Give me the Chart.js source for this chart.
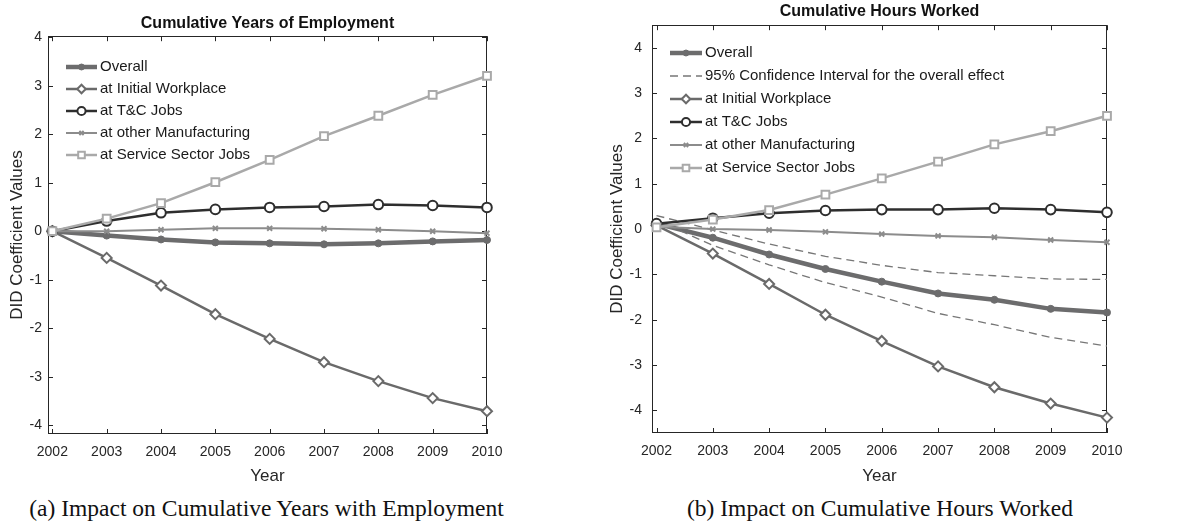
<!DOCTYPE html>
<html lang="en">
<head>
<meta charset="UTF-8">
<title>DID Coefficient Values</title>
<script src="https://cdn.jsdelivr.net/npm/chart.js"></script>
<style>
  body {
    margin: 0;
    background: #fff;
    width: 1195px;
    height: 528px;
    overflow: hidden;
    position: relative;
  }
  canvas { position: absolute; top: 0; }
  #chartA { left: 0; }
  #chartB { left: 600px; }
  .caption {
    position: absolute;
    top: 494px;
    font-family: "Liberation Serif", "Times New Roman", serif;
    font-size: 23.5px;
    line-height: 28px;
    color: #111;
    text-align: center;
  }
</style>
</head>
<body>
  <canvas id="chartA" width="595" height="490"></canvas>
  <canvas id="chartB" width="595" height="490"></canvas>
  <div class="caption" style="left:0; width:533px;">(a) Impact on Cumulative Years with Employment</div>
  <div class="caption" style="left:600px; width:560px;">(b) Impact on Cumulative Hours Worked</div>

<script>
  const years = [2002, 2003, 2004, 2005, 2006, 2007, 2008, 2009, 2010];
  const yTicksA = [-4, -3, -2, -1, 0, 1, 2, 3, 4];
  const yTicksB = [-4, -3, -2, -1, 0, 1, 2, 3, 4];

  // (a) cumulative years of employment
  const empOverall = [0, -0.09, -0.17, -0.23, -0.25, -0.27, -0.25, -0.21, -0.18];
  const empInitial = [0, -0.55, -1.12, -1.71, -2.22, -2.70, -3.09, -3.44, -3.71];
  const empTC = [0, 0.21, 0.38, 0.45, 0.49, 0.51, 0.55, 0.53, 0.49];
  const empOther = [0, 0.0, 0.03, 0.06, 0.06, 0.05, 0.03, 0.0, -0.04];
  const empService = [0, 0.26, 0.58, 1.01, 1.47, 1.96, 2.38, 2.81, 3.20];

  // (b) cumulative hours worked
  const hrsOverall = [0.12, -0.19, -0.56, -0.88, -1.16, -1.42, -1.56, -1.76, -1.84];
  const hrsCIUp = [0.30, -0.02, -0.33, -0.60, -0.80, -0.96, -1.03, -1.10, -1.11];
  const hrsCILow = [0.20, -0.36, -0.79, -1.18, -1.50, -1.86, -2.11, -2.39, -2.58];
  const hrsInitial = [0.08, -0.54, -1.21, -1.89, -2.47, -3.03, -3.49, -3.85, -4.16];
  const hrsTC = [0.12, 0.24, 0.35, 0.41, 0.43, 0.43, 0.46, 0.43, 0.37];
  const hrsOther = [0.05, 0.0, -0.02, -0.06, -0.11, -0.15, -0.18, -0.24, -0.29];
  const hrsService = [0.04, 0.21, 0.42, 0.76, 1.12, 1.49, 1.87, 2.16, 2.50];

  const FONT = '"Liberation Sans", Arial, Helvetica, sans-serif';
  const INK = '#262626';

  const styles = {
    overall: { borderColor: '#6c6c6d', borderWidth: 4.5, pointStyle: 'circle', pointRadius: 3.5,
               pointBackgroundColor: '#6c6c6d', pointBorderColor: '#6c6c6d', pointBorderWidth: 1 },
    ci: { borderColor: '#777777', borderWidth: 1.3, borderDash: [8, 5], pointRadius: 0 },
    initial: { borderColor: '#6a6a6a', borderWidth: 2.5, pointStyle: 'rectRot', pointRadius: 5,
               pointBackgroundColor: '#ffffff', pointBorderColor: '#6a6a6a', pointBorderWidth: 2 },
    tc: { borderColor: '#2e2e2e', borderWidth: 2.5, pointStyle: 'circle', pointRadius: 4.8,
          pointBackgroundColor: '#ffffff', pointBorderColor: '#2e2e2e', pointBorderWidth: 2 },
    other: { borderColor: '#8c8c8c', borderWidth: 2, pointStyle: 'crossRot', pointRadius: 3.5,
             pointBackgroundColor: '#8c8c8c', pointBorderColor: '#8c8c8c', pointBorderWidth: 2 },
    service: { borderColor: '#a9a9a9', borderWidth: 2.5, pointStyle: 'rect', pointRadius: 5.5,
               pointBackgroundColor: '#ffffff', pointBorderColor: '#a9a9a9', pointBorderWidth: 2 }
  };

  function series(label, values, style, idx, inLegend) {
    return Object.assign({
      label: label,
      data: values.map((v, i) => ({ x: years[i], y: v })),
      tension: 0,
      fill: false,
      clip: false,
      order: 20 - idx,
      inLegend: inLegend !== false,
      pointHoverRadius: style.pointRadius
    }, style);
  }

  // box, inward ticks and the legend the way matlab draws them
  const matlabLook = {
    id: 'matlabLook',
    beforeDatasetsDraw(chart) {
      const { ctx, chartArea: a, scales } = chart;
      ctx.save();
      ctx.strokeStyle = INK;
      ctx.lineWidth = 1;
      ctx.strokeRect(Math.round(a.left) + 0.5, Math.round(a.top) + 0.5,
                     Math.round(a.width) - 1, Math.round(a.height) - 1);
      ctx.beginPath();
      scales.x.ticks.forEach(t => {
        const px = Math.round(scales.x.getPixelForValue(t.value)) + 0.5;
        ctx.moveTo(px, a.bottom); ctx.lineTo(px, a.bottom - 5);
        ctx.moveTo(px, a.top); ctx.lineTo(px, a.top + 5);
      });
      scales.y.ticks.forEach(t => {
        const py = Math.round(scales.y.getPixelForValue(t.value)) + 0.5;
        ctx.moveTo(a.left, py); ctx.lineTo(a.left + 5, py);
        ctx.moveTo(a.right, py); ctx.lineTo(a.right - 5, py);
      });
      ctx.stroke();
      ctx.restore();
    },
    afterDatasetsDraw(chart, args, opts) {
      const ctx = chart.ctx;
      let y = opts.y;
      ctx.save();
      ctx.font = '15px ' + FONT;
      ctx.textBaseline = 'middle';
      chart.data.datasets.forEach(ds => {
        if (!ds.inLegend) return;
        ctx.strokeStyle = ds.borderColor;
        ctx.lineWidth = ds.borderWidth;
        ctx.setLineDash(ds.borderDash || []);
        ctx.beginPath();
        ctx.moveTo(opts.x, y);
        ctx.lineTo(opts.x + opts.len, y);
        ctx.stroke();
        ctx.setLineDash([]);
        if (ds.pointRadius > 0) {
          ctx.fillStyle = ds.pointBackgroundColor;
          ctx.strokeStyle = ds.pointBorderColor;
          ctx.lineWidth = ds.pointBorderWidth;
          Chart.helpers.drawPoint(ctx, {
            pointStyle: ds.pointStyle, radius: ds.pointRadius * 0.85,
            borderWidth: ds.pointBorderWidth, rotation: 0
          }, opts.x + opts.len / 2, y);
        }
        ctx.fillStyle = '#1a1a1a';
        ctx.fillText(ds.label, opts.x + opts.len + 3, y);
        y += opts.dy;
      });
      ctx.restore();
    }
  };

  function makeOptions(cfg) {
    return {
      responsive: false,
      animation: false,
      events: [],
      layout: { padding: { left: 0, right: cfg.padRight, top: 0, bottom: 0 } },
      plugins: {
        legend: { display: false },
        tooltip: { enabled: false },
        title: {
          display: true,
          text: cfg.title,
          fullSize: false,
          color: '#111',
          font: { family: FONT, size: 16, weight: 'bold' },
          padding: cfg.titlePad
        },
        matlabLook: cfg.legend
      },
      scales: {
        x: {
          type: 'linear',
          min: 2001.92,
          max: 2010,
          afterBuildTicks: s => { s.ticks = years.map(v => ({ value: v })); },
          afterFit: s => { s.height = cfg.xHeight; },
          grid: { display: false, drawTicks: false },
          border: { display: false },
          ticks: {
            autoSkip: false, maxRotation: 0, padding: 10,
            color: INK, font: { family: FONT, size: 14 },
            callback: v => String(v)
          },
          title: {
            display: true, text: 'Year', color: INK,
            font: { family: FONT, size: 17 },
            padding: { top: 0, bottom: 3 }
          }
        },
        y: {
          min: cfg.yMin,
          max: cfg.yMax,
          afterBuildTicks: s => { s.ticks = cfg.yTicks.map(v => ({ value: v })); },
          afterFit: s => { s.width = cfg.yWidth; },
          grid: { display: false, drawTicks: false },
          border: { display: false },
          ticks: {
            padding: cfg.yTickPad,
            color: INK, font: { family: FONT, size: 14 },
            callback: v => String(v)
          },
          title: {
            display: true, text: 'DID Coefficient Values', color: INK,
            font: { family: FONT, size: 17 },
            padding: { top: 7, bottom: 0 }
          }
        }
      }
    };
  }

  new Chart(document.getElementById('chartA'), {
    type: 'line',
    data: {
      datasets: [
        series('Overall', empOverall, styles.overall, 0),
        series('at Initial Workplace', empInitial, styles.initial, 1),
        series('at T&C Jobs', empTC, styles.tc, 2),
        series('at other Manufacturing', empOther, styles.other, 3),
        series('at Service Sector Jobs', empService, styles.service, 4)
      ]
    },
    options: makeOptions({
      title: 'Cumulative Years of Employment',
      titlePad: { top: 14, bottom: 3 },
      padRight: 108,
      xHeight: 56,
      yWidth: 48,
      yTickPad: 6,
      yMin: -4.18,
      yMax: 4.02,
      yTicks: yTicksA,
      legend: { x: 66, y: 67, dy: 22, len: 31 }
    }),
    plugins: [matlabLook]
  });

  new Chart(document.getElementById('chartB'), {
    type: 'line',
    data: {
      datasets: [
        series('Overall', hrsOverall, styles.overall, 0),
        series('95% Confidence Interval for the overall effect', hrsCIUp, styles.ci, 1),
        series('95% CI lower', hrsCILow, styles.ci, 2, false),
        series('at Initial Workplace', hrsInitial, styles.initial, 3),
        series('at T&C Jobs', hrsTC, styles.tc, 4),
        series('at other Manufacturing', hrsOther, styles.other, 5),
        series('at Service Sector Jobs', hrsService, styles.service, 6)
      ]
    },
    options: makeOptions({
      title: 'Cumulative Hours Worked',
      titlePad: { top: 2, bottom: 4 },
      padRight: 88,
      xHeight: 57,
      yWidth: 52,
      yTickPad: 10,
      yMin: -4.5,
      yMax: 4.5,
      yTicks: yTicksB,
      legend: { x: 70, y: 53, dy: 23, len: 32 }
    }),
    plugins: [matlabLook]
  });
</script>
</body>
</html>
